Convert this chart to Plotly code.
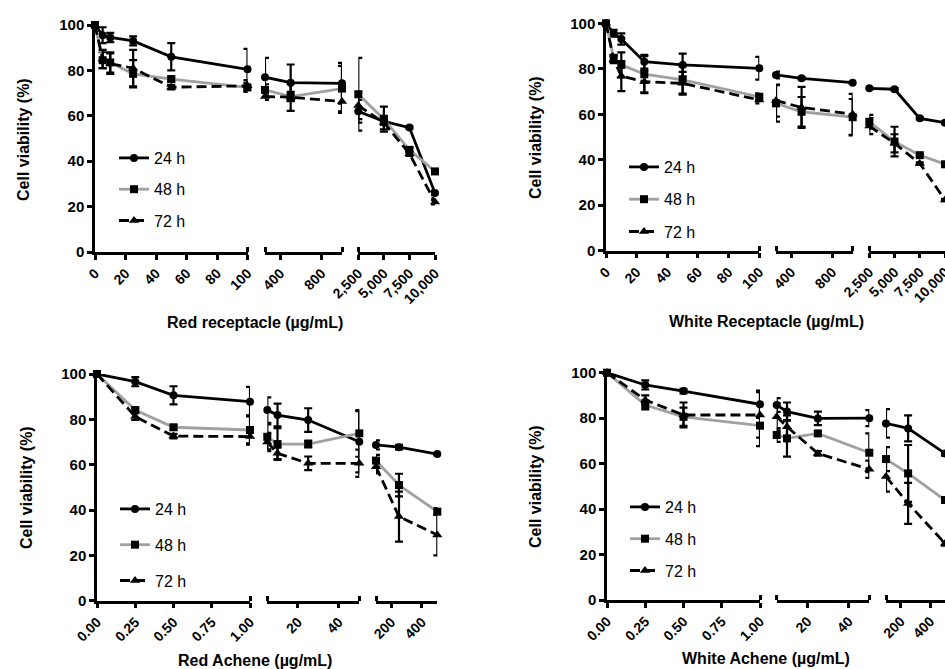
import plotly.graph_objects as go

# ---------------- data ----------------
rec_conc = [0, 5, 10, 25, 50, 100, 250, 500, 1000, 2500, 5000, 7500, 10000]
ach_conc = [0, 0.25, 0.5, 1, 5, 10, 25, 50, 100, 250, 500]

red_rec_24 = [100, 95.5, 94.5, 93, 86, 80.5, 77, 74.6, 74.3, 62, 57.5, 54.8, 26]
red_rec_24_sd = [0.5, 3.5, 2, 2, 6, 9, 8.5, 8, 9, 5, 1.5, 0.5, 1]
red_rec_48 = [100, 84.5, 83.5, 78.5, 76.2, 72.5, 71.4, 68.5, 72, 69.5, 58.5, 45, 35.5]
red_rec_48_sd = [0.5, 3.5, 4.5, 6, 1, 2, 2.5, 2, 10, 16, 5.5, 1, 1]
red_rec_72 = [100, 85, 83, 81, 72.6, 73.2, 68.5, 68.2, 66.3, 64.5, 57, 43.3, 22]
red_rec_72_sd = [0.5, 4, 4.5, 8, 1, 2.5, 1.5, 6, 5, 6, 3, 1, 1]

white_rec_24 = [100, 95.6, 93.1, 83.1, 81.7, 80.2, 77.3, 75.8, 73.9, 71.4, 71, 58.2, 56.3]
white_rec_24_sd = [0.5, 1.5, 2.5, 3, 5, 5, 1.5, 0.5, 0.5, 0.5, 0.5, 0.5, 0.5]
white_rec_48 = [100, 84.6, 81.7, 77.6, 75.1, 67.7, 64.8, 61.1, 58.7, 56.7, 48, 42, 38]
white_rec_48_sd = [0.5, 1.5, 5.5, 8, 6, 1.5, 8, 6.5, 8, 3, 6.5, 0.5, 0.5]
white_rec_72 = [100, 84, 76.8, 74.3, 73.6, 66.3, 66, 63, 60, 54.8, 47.2, 38.4, 22.3]
white_rec_72_sd = [0.5, 1.5, 6.6, 5, 5, 1.5, 7, 9, 9, 3.5, 4, 0.5, 0.5]

red_ach_24 = [100, 96.6, 90.6, 87.8, 84.1, 81.9, 79.7, 70.1, 68.7, 67.7, 64.7]
red_ach_24_sd = [0.5, 2, 4, 6.5, 5.6, 5, 5.2, 13.5, 2, 1, 0.5]
red_ach_48 = [100, 84.1, 76.5, 75.3, 72.3, 69.1, 69.1, 73.8, 61.8, 51, 39.3]
red_ach_48_sd = [0.5, 1, 1, 6.5, 5.5, 7, 1.5, 10.3, 2.5, 5, 1.5]
red_ach_72 = [100, 81.2, 72.6, 72.4, 70, 65, 60.6, 60.6, 59.1, 37.1, 29]
red_ach_72_sd = [0.5, 1.5, 1, 3, 4, 2.5, 3, 6, 3, 11, 9]

white_ach_24 = [100, 94.6, 91.9, 86.1, 85.8, 82.9, 79.9, 80, 77.7, 75.5, 64.5]
white_ach_24_sd = [0.5, 2, 1, 6, 3, 4, 3, 3.5, 6.3, 5.7, 1]
white_ach_48 = [100, 85.8, 80.6, 76.7, 72.6, 71.1, 73.3, 64.8, 62, 55.7, 44]
white_ach_48_sd = [0.5, 2, 4, 9, 3, 8, 1, 8.5, 5.3, 12.5, 1]
white_ach_72 = [100, 88, 81.4, 81.4, 80.6, 76.2, 64.5, 57.5, 54.3, 42.5, 24.9]
white_ach_72_sd = [0.5, 2, 5.5, 10, 6, 5, 1, 3.8, 6.6, 9, 1]

series_names = ["24 h", "48 h", "72 h"]

rec_seg_ranges = [[0, 100], [250, 1000], [2500, 10000]]
rec_tickvals = [[0, 20, 40, 60, 80, 100], [250, 400, 800, 1000], [2500, 5000, 7500, 10000]]
rec_ticktext = [["0", "20", "40", "60", "80", "100"], ["", "400", "800", ""],
                ["2,500", "5,000", "7,500", "10,000"]]
rec_break_ticks = [[100], [250, 1000], [2500]]

ach_seg_ranges = [[0, 1], [5, 50], [100, 500]]
ach_tickvals = [[0, 0.25, 0.5, 0.75, 1], [5, 20, 40, 50], [100, 200, 400]]
ach_ticktext = [["0.00", "0.25", "0.50", "0.75", "1.00"], ["", "20", "40", ""], ["", "200", "400"]]
ach_break_ticks = [[1], [5, 50], [100]]

y_tickvals = [0, 20, 40, 60, 80, 100]

x_titles = ["Red receptacle (µg/mL)", "White Receptacle (µg/mL)",
            "Red Achene (µg/mL)", "White Achene (µg/mL)"]
y_title = "Cell viability (%)"

# ---------------- layout / styles ----------------
W, H = 945, 669
FONT = "Liberation Sans, Arial, sans-serif"


def fx(px):
    return px / W


def fy(py):
    return 1 - py / H


panels = [
    dict(x=rec_conc, ys=[(red_rec_24, red_rec_24_sd), (red_rec_48, red_rec_48_sd), (red_rec_72, red_rec_72_sd)],
         ranges=rec_seg_ranges, tv=rec_tickvals, tt=rec_ticktext, brk=rec_break_ticks,
         xseg=[(95, 247.5), (265, 342), (358.3, 435)], ytop=25, ybot=252,
         leg=(114, 141), gap=7.5, xt=(255, 322), yt=(24, 140)),
    dict(x=rec_conc, ys=[(white_rec_24, white_rec_24_sd), (white_rec_48, white_rec_48_sd), (white_rec_72, white_rec_72_sd)],
         ranges=rec_seg_ranges, tv=rec_tickvals, tt=rec_ticktext, brk=rec_break_ticks,
         xseg=[(606, 759.3), (776, 852.7), (869.3, 945)], ytop=23.3, ybot=250.7,
         leg=(624, 150), gap=8.5, xt=(766, 321), yt=(535, 138)),
    dict(x=ach_conc, ys=[(red_ach_24, red_ach_24_sd), (red_ach_48, red_ach_48_sd), (red_ach_72, red_ach_72_sd)],
         ranges=ach_seg_ranges, tv=ach_tickvals, tt=ach_ticktext, brk=ach_break_ticks,
         xseg=[(97, 250), (267.3, 359.3), (376, 437.3)], ytop=374, ybot=600.7,
         leg=(115, 492), gap=12, xt=(255, 660), yt=(26, 488)),
    dict(x=ach_conc, ys=[(white_ach_24, white_ach_24_sd), (white_ach_48, white_ach_48_sd), (white_ach_72, white_ach_72_sd)],
         ranges=ach_seg_ranges, tv=ach_tickvals, tt=ach_ticktext, brk=ach_break_ticks,
         xseg=[(607, 760), (776.7, 869.3), (886, 945)], ytop=372.7, ybot=600,
         leg=(625, 490), gap=8, xt=(766, 658), yt=(536, 487)),
]

styles = [
    dict(line=dict(color="black", width=2.8), marker=dict(symbol="circle", size=8, color="black")),
    dict(line=dict(color="#a0a0a0", width=2.8), marker=dict(symbol="square", size=8, color="black")),
    dict(line=dict(color="black", width=2.8, dash="10px,5px"), marker=dict(symbol="triangle-up", size=9, color="black")),
]

fig = go.Figure()
layout = {}
annotations = []

for p, pan in enumerate(panels):
    yname = "yaxis" if p == 0 else f"yaxis{p + 1}"
    yref = "y" if p == 0 else f"y{p + 1}"
    legname = "legend" if p == 0 else f"legend{p + 1}"
    first_x = "x" if p == 0 else f"x{p * 3 + 1}"
    for s in range(3):
        n = p * 3 + s + 1
        xname = "xaxis" if n == 1 else f"xaxis{n}"
        xref = "x" if n == 1 else f"x{n}"
        lo, hi = pan["ranges"][s]
        layout[xname] = dict(
            domain=[fx(pan["xseg"][s][0]), fx(pan["xseg"][s][1])],
            range=[lo, hi], anchor=yref, showgrid=False, zeroline=False, automargin=False,
            showline=True, linecolor="black", linewidth=2.5,
            ticks="outside", ticklen=5, tickwidth=2.5, tickcolor="black",
            tickmode="array", tickvals=pan["tv"][s], ticktext=pan["tt"][s],
            tickangle=-45, ticklabeloverflow="allow",
            tickfont=dict(family=FONT, size=14, color="black", weight="bold"),
            minor=dict(tickmode="array", tickvals=pan["brk"][s], ticks="inside", ticklen=5,
                       tickwidth=2.5, tickcolor="black", showgrid=False),
            fixedrange=True,
        )
        for k, (yv, sd) in enumerate(pan["ys"]):
            xs, ys, es = [], [], []
            for xv, v, e in zip(pan["x"], yv, sd):
                if lo <= xv <= hi:
                    xs.append(xv)
                    ys.append(v)
                    es.append(e)
            fig.add_trace(go.Scatter(
                x=xs, y=ys, xaxis=xref, yaxis=yref, mode="lines+markers",
                name=series_names[k], legend=legname, legendgroup=f"p{p}k{k}",
                showlegend=(s == 0), cliponaxis=False,
                line=styles[k]["line"], marker=styles[k]["marker"],
                error_y=dict(type="data", array=es, visible=True, color="black", thickness=2.2, width=4),
            ))
    layout[yname] = dict(
        domain=[fy(pan["ybot"]), fy(pan["ytop"])], range=[0, 100], anchor=first_x,
        showgrid=False, zeroline=False, automargin=False, showline=True, linecolor="black", linewidth=2.5,
        ticks="outside", ticklen=5, tickwidth=2.5, tickcolor="black",
        tickmode="array", tickvals=y_tickvals,
        tickfont=dict(family=FONT, size=15, color="black", weight="bold"), fixedrange=True,
    )
    layout[legname] = dict(
        x=fx(pan["leg"][0]), y=fy(pan["leg"][1]), xanchor="left", yanchor="top",
        bgcolor="rgba(0,0,0,0)", traceorder="grouped", tracegroupgap=pan["gap"],
        font=dict(family=FONT, size=16, color="black"), itemwidth=30,
    )
    annotations.append(dict(
        text=x_titles[p], x=fx(pan["xt"][0]), y=fy(pan["xt"][1]), xref="paper", yref="paper",
        showarrow=False, xanchor="center", yanchor="middle",
        font=dict(family=FONT, size=16, color="black", weight="bold"),
    ))
    annotations.append(dict(
        text=y_title, x=fx(pan["yt"][0]), y=fy(pan["yt"][1]), xref="paper", yref="paper",
        showarrow=False, xanchor="center", yanchor="middle", textangle=-90,
        font=dict(family=FONT, size=16, color="black", weight="bold"),
    ))

fig.update_layout(
    template="none",
    width=W, height=H, margin=dict(l=0, r=0, t=0, b=0, autoexpand=False),
    paper_bgcolor="white", plot_bgcolor="white",
    font=dict(family=FONT, color="black"),
    annotations=annotations, hovermode=False, **layout,
)

fig.write_html("out.html", config={"displayModeBar": False})
